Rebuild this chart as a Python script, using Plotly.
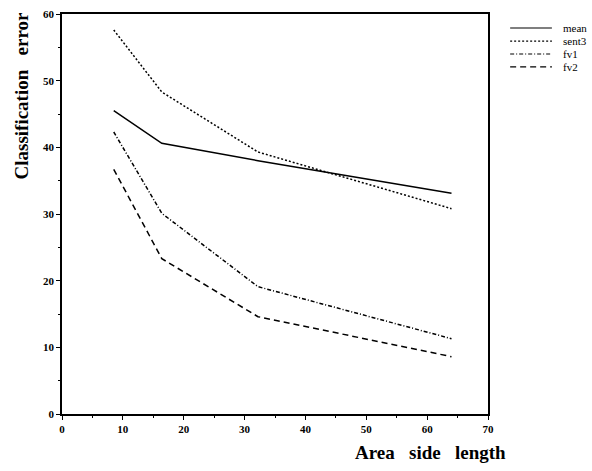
import plotly.graph_objects as go

# Data
area_side = [8.5, 16.4, 32.2, 64]
mean_err = [45.5, 40.6, 38.0, 33.1]
sent3_err = [57.6, 48.3, 39.3, 30.8]
fv1_err = [42.3, 30.1, 19.1, 11.3]
fv2_err = [36.7, 23.3, 14.6, 8.6]

series_names = ["mean", "sent3", "fv1", "fv2"]
series_values = [mean_err, sent3_err, fv1_err, fv2_err]
dashes = ["solid", "2px,2px", "4px,2px,1px,2px", "6px,4px"]

x_ticks = [0, 10, 20, 30, 40, 50, 60, 70]
y_ticks = [0, 10, 20, 30, 40, 50, 60]

SERIF = "Liberation Serif, Times New Roman, serif"

fig = go.Figure()
for name, vals, dash in zip(series_names, series_values, dashes):
    fig.add_trace(go.Scatter(x=area_side, y=vals, mode="lines", name=name,
                             line=dict(color="black", width=1.5, dash=dash),
                             showlegend=False))

# manual legend (top right)
leg_y = [0.965, 0.932, 0.900, 0.868]
for name, dash, yy in zip(series_names, dashes, leg_y):
    fig.add_shape(type="line", xref="paper", yref="paper",
                  x0=1.052, x1=1.150, y0=yy, y1=yy,
                  line=dict(color="black", width=1.2, dash=dash))
    fig.add_annotation(xref="paper", yref="paper", x=1.172, y=yy, text=name,
                       showarrow=False, xanchor="left", yanchor="middle",
                       font=dict(family=SERIF, size=11, color="black"))

fig.add_annotation(xref="paper", yref="paper", x=-0.096, y=0.794,
                   text="<b>Classification   error</b>", textangle=-90,
                   showarrow=False, xanchor="center", yanchor="middle",
                   font=dict(family=SERIF, size=19, color="black"))
fig.add_annotation(xref="paper", yref="paper", x=0.683, y=-0.095,
                   text="<b>Area   side   length</b>",
                   showarrow=False, xanchor="left", yanchor="middle",
                   font=dict(family=SERIF, size=19, color="black"))

axis_common = dict(showgrid=False, zeroline=False, showline=True, linecolor="black",
                   linewidth=1.5, mirror=True, ticks="outside", ticklen=4,
                   tickcolor="black", tickwidth=1,
                   tickfont=dict(family=SERIF, size=11, color="black"),
                   minor=dict(ticks="outside", ticklen=2, tickcolor="black"))

fig.update_xaxes(range=[0, 70], tickvals=x_ticks, ticktext=[f"<b>{v}</b>" for v in x_ticks],
                 **axis_common)
fig.update_yaxes(range=[0, 60], tickvals=y_ticks, ticktext=[f"<b>{v}</b>" for v in y_ticks],
                 **axis_common)

fig.update_layout(width=592, height=471, margin=dict(l=62, r=104, t=8, b=57),
                  paper_bgcolor="white", plot_bgcolor="white")

fig.write_html("out.html", config={"displayModeBar": False},
               post_script="document.body.style.margin='0';document.body.style.overflow='hidden';")
